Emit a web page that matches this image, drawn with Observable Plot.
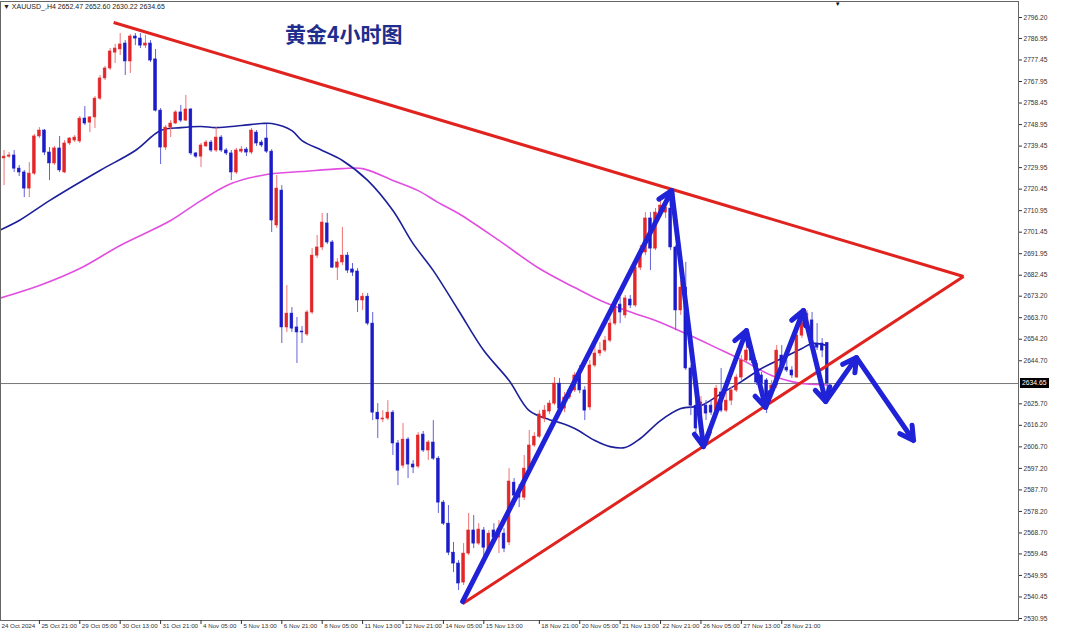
<!DOCTYPE html>
<html><head><meta charset="utf-8">
<script src="https://cdn.jsdelivr.net/npm/d3@7"></script>
<script src="https://cdn.jsdelivr.net/npm/@observablehq/plot@0.6"></script>
<style>
body{margin:0;background:#fff;}
#wrap{position:relative;width:1080px;height:635px;overflow:hidden;font-family:"Liberation Sans",Arial,sans-serif;background:#fff;}
#wrap svg{position:absolute;left:0;top:0;}
.hdr{position:absolute;left:3px;top:2px;font-size:7px;line-height:9px;color:#222;white-space:nowrap;}
.title{position:absolute;left:285px;top:23px;font-family:"Noto Sans CJK SC",sans-serif;font-weight:bold;font-size:21px;line-height:21px;color:#1f2d8c;white-space:nowrap;}
.pbox{position:absolute;background:#000;color:#fff;font-size:6.8px;line-height:10px;height:10px;padding:0 2px;white-space:nowrap;}
.shift{position:absolute;top:1px;font-size:6px;line-height:6px;color:#000;}
</style></head><body><div id="wrap"></div>
<script>
// ---------------- data (XAUUSD H4) ----------------
const open = [2736.2,2734.0,2734.8,2735.3,2729.5,2727.8,2720.7,2727.3,2743.7,2746.3,
2736.6,2731.8,2738.4,2727.8,2740.6,2741.9,2741.5,2751.6,2749.8,2752.1,
2760.4,2769.3,2773.7,2780.7,2782.1,2784.7,2776.8,2787.8,2786.9,2783.8,
2784.7,2777.7,2755.1,2738.8,2747.6,2749.4,2754.3,2750.7,2755.6,2736.2,
2734.8,2739.3,2741.0,2737.5,2743.2,2737.5,2736.2,2727.8,2737.0,2737.9,
2736.6,2745.4,2741.0,2742.8,2737.0,2704.4,2719.8,2659.4,2665.5,2659.4,
2657.6,2656.3,2666.0,2691.1,2694.7,2705.3,2696.9,2685.8,2688.1,2691.1,
2685.0,2684.1,2671.3,2673.0,2661.1,2621.8,2618.8,2619.2,2621.8,2608.2,
2598.4,2609.9,2598.9,2598.0,2612.1,2605.1,2608.6,2601.5,2582.1,2572.8,
2560.0,2555.2,2546.8,2559.6,2569.8,2564.0,2569.8,2560.9,2569.8,2566.7,
2568.4,2564.5,2590.9,2587.4,2584.3,2597.1,2607.3,2611.2,2619.2,2622.3,
2625.8,2634.6,2623.6,2628.5,2631.6,2639.5,2631.6,2624.1,2642.6,2647.9,
2649.2,2653.6,2661.1,2669.5,2664.7,2671.7,2669.1,2685.8,2692.5,2707.5,
2694.2,2710.1,2710.1,2711.9,2694.7,2666.9,2677.0,2641.3,2624.9,2618.3,
2624.9,2624.9,2622.7,2630.7,2622.7,2627.1,2631.6,2637.3,2644.8,2649.2,
2643.5,2638.2,2636.0,2629.4,2633.8,2647.0,2641.7,2640.4,2637.3,2655.8,
2661.1,2662.5,2652.3,2652.3,2652.47];
const high = [2741.9,2737.5,2736.6,2737.5,2730.9,2728.7,2732.2,2744.6,2747.6,2746.8,
2738.8,2739.3,2743.7,2741.9,2743.2,2744.1,2752.5,2756.9,2752.5,2761.3,
2770.6,2774.6,2782.5,2784.3,2789.1,2786.0,2788.7,2789.1,2789.1,2788.3,
2786.0,2782.1,2756.0,2748.5,2750.7,2755.1,2757.4,2761.8,2756.0,2736.6,
2740.6,2741.9,2741.9,2747.6,2744.1,2738.4,2737.5,2738.4,2739.3,2738.8,
2747.2,2746.3,2741.9,2749.0,2737.9,2726.5,2722.0,2677.9,2668.2,2663.8,
2659.8,2666.9,2694.2,2700.0,2709.7,2709.7,2697.8,2689.8,2703.5,2692.5,
2687.6,2685.4,2674.4,2674.4,2666.0,2625.8,2622.7,2627.1,2622.7,2609.5,
2617.0,2610.8,2600.7,2613.0,2613.5,2609.5,2618.3,2602.4,2583.0,2580.8,
2564.5,2556.5,2564.0,2577.3,2576.4,2572.8,2571.1,2569.8,2572.8,2574.2,
2570.6,2597.1,2592.7,2590.1,2602.9,2613.9,2613.0,2622.7,2624.9,2627.1,
2637.3,2636.9,2630.7,2633.3,2639.5,2642.6,2633.3,2644.8,2651.4,2652.7,
2655.4,2663.3,2671.3,2672.6,2673.5,2673.5,2687.6,2695.6,2710.1,2710.1,
2711.9,2715.4,2714.1,2713.7,2695.6,2680.1,2688.1,2642.6,2627.1,2628.9,
2627.1,2627.1,2633.8,2641.3,2630.7,2633.3,2638.6,2647.0,2651.4,2651.4,
2644.8,2639.5,2636.9,2636.0,2651.4,2651.4,2644.8,2642.1,2658.0,2666.9,
2666.9,2666.0,2661.1,2654.5,2652.60];
const low = [2729.5,2722.0,2734.0,2727.8,2726.0,2716.7,2716.7,2726.5,2742.8,2735.3,
2724.2,2730.9,2727.8,2727.3,2739.7,2741.0,2740.6,2748.5,2745.4,2747.2,
2759.6,2768.4,2772.8,2775.9,2779.4,2770.6,2771.5,2783.8,2782.5,2782.5,
2776.3,2754.5,2731.3,2737.5,2743.2,2749.0,2749.8,2750.3,2735.3,2734.0,
2730.0,2738.8,2736.6,2736.6,2736.6,2735.3,2724.2,2726.9,2736.2,2734.8,
2735.7,2739.3,2738.8,2736.2,2701.3,2703.1,2652.3,2657.2,2657.2,2643.5,
2652.3,2655.4,2665.1,2689.8,2693.3,2696.0,2685.4,2680.1,2686.7,2683.2,
2681.9,2666.0,2666.9,2660.2,2618.3,2610.4,2617.4,2618.3,2602.9,2589.6,
2597.1,2592.7,2594.9,2597.1,2604.2,2600.7,2600.7,2577.3,2572.0,2558.7,
2551.2,2543.3,2545.5,2558.7,2561.8,2563.1,2558.3,2559.6,2565.3,2559.6,
2560.0,2563.1,2580.8,2579.9,2583.0,2596.2,2606.4,2610.4,2617.4,2621.0,
2624.9,2622.7,2621.8,2627.6,2630.7,2630.2,2618.3,2622.7,2641.7,2646.6,
2648.3,2652.7,2660.2,2661.1,2663.3,2667.7,2668.2,2684.5,2691.1,2684.5,
2693.3,2708.4,2707.5,2693.3,2658.0,2664.7,2640.4,2620.5,2613.0,2616.1,
2618.3,2620.5,2621.8,2621.8,2621.8,2624.9,2630.7,2636.0,2643.9,2643.5,
2633.8,2633.3,2621.4,2628.0,2632.4,2640.4,2639.5,2636.9,2636.9,2654.5,
2660.2,2649.2,2649.2,2646.1,2630.22];
const close = [2733.1,2734.8,2735.3,2729.5,2727.8,2720.7,2727.3,2743.7,2746.3,2736.6,
2731.8,2738.4,2728.7,2740.6,2742.8,2743.2,2751.6,2749.4,2752.1,2760.4,
2769.3,2773.7,2781.2,2782.5,2784.3,2776.8,2787.8,2786.9,2783.8,2784.7,
2777.2,2755.1,2738.8,2747.6,2749.4,2754.3,2750.7,2755.6,2736.2,2734.8,
2739.7,2741.0,2737.5,2743.2,2737.5,2736.2,2727.8,2737.5,2737.9,2736.6,
2746.3,2740.6,2739.7,2737.0,2706.6,2720.7,2659.4,2665.5,2658.9,2657.2,
2657.2,2666.0,2691.1,2694.7,2705.7,2696.9,2685.8,2688.1,2691.1,2684.5,
2683.6,2671.3,2673.0,2661.1,2621.8,2618.8,2619.2,2621.8,2608.2,2596.2,
2609.9,2598.9,2597.6,2611.7,2605.1,2608.6,2601.5,2582.1,2572.8,2560.0,
2555.2,2546.4,2559.6,2569.8,2564.0,2570.2,2562.2,2568.4,2566.7,2570.6,
2561.8,2591.4,2585.2,2584.3,2597.1,2607.3,2611.2,2621.0,2622.7,2625.8,
2634.6,2623.6,2628.5,2631.6,2638.2,2631.6,2622.7,2642.6,2647.9,2649.2,
2653.6,2661.1,2669.1,2666.0,2672.2,2669.1,2685.8,2692.5,2707.5,2694.2,
2710.1,2713.2,2712.3,2694.7,2666.9,2677.0,2641.3,2624.9,2614.8,2626.3,
2621.4,2621.8,2632.4,2622.7,2627.1,2631.6,2637.3,2644.8,2649.2,2644.8,
2635.1,2634.6,2628.5,2633.8,2649.2,2641.7,2640.4,2638.2,2655.8,2661.6,
2665.5,2650.5,2650.5,2649.2,2634.65];

// moving averages (at bar positions)
const blueMAIdx = [0,4,10,20,27,32,36,40,43,48,52,54,58,60,64,68,73,78,82,86,91,96,101,105,109,111,114,118,121,124,127,131,135,139,143,147,151,155,159,161,164];
const blueMAVal = [2702.2,2706.6,2715.4,2728.7,2737.5,2746.3,2747.6,2748.1,2747.6,2748.5,2749.4,2749.4,2746.3,2741.9,2737.5,2733.1,2724.3,2711.0,2696.4,2684.5,2666.9,2649.2,2636.0,2622.7,2618.7,2617.4,2614.8,2609.5,2606.8,2606.4,2610.4,2618.3,2623.6,2624.9,2630.2,2635.5,2641.3,2645.7,2650.1,2652.3,2651.4];
const pinkMAIdx = [0,8,16,24,34,40,46,53,60,68,72,78,83,87,91,99,107,114,120,126,130,136,142,147,153,157,159,162,164];
const pinkMAVal = [2672.2,2677.9,2685.4,2695.6,2706.6,2715.4,2722.9,2726.9,2728.2,2729.5,2729.5,2724.3,2719.8,2714.5,2709.7,2697.8,2685.4,2677.0,2670.4,2665.5,2662.5,2656.7,2650.5,2645.2,2638.2,2635.5,2634.7,2634.2,2634.0];

// red triangle trend lines (bar index, price)
const trendFrom = [[22.7, 2794.0], [91.8, 2537.5]];
const trendTo   = [[191.0, 2681.9], [191.0, 2681.9]];

// blue forecast zig-zag arrows
const arrowIdx = [91.8, 133.2, 139.5, 148.0, 151.8, 159.3, 163.7, 169.8, 181.1];
const arrowVal = [2538.4, 2719.8, 2606.8, 2658.0, 2624.1, 2666.9, 2626.7, 2646.1, 2609.5];

// axes
const priceTicks = [2796.20,2786.95,2777.45,2767.95,2758.45,2748.95,2739.45,2729.95,2720.45,2710.95,2701.45,2691.95,2682.45,2673.20,2663.70,2654.20,2644.70,2625.70,2616.20,2606.70,2597.20,2587.70,2578.20,2568.70,2559.45,2549.95,2540.45,2530.95];
const timeIdx = [8,16,24,32,40,48,56,64,72,80,88,96,107,115,123,131,139,147,155];
const timeLabels = ["25 Oct 21:00","29 Oct 05:00","30 Oct 13:00","31 Oct 21:00","4 Nov 05:00","5 Nov 13:00","6 Nov 21:00","8 Nov 05:00","11 Nov 13:00","12 Nov 21:00","14 Nov 05:00","15 Nov 13:00","18 Nov 21:00","20 Nov 05:00","21 Nov 13:00","22 Nov 21:00","26 Nov 05:00","27 Nov 13:00","28 Nov 21:00"];
const firstLabel = "24 Oct 2024";
const symbol = "XAUUSD_,H4";
const lastPrice = 2634.65;
const titleText = "黄金4小时图";

// ---------------- layout ----------------
const W = 1080, H = 635, XR = 1018;
const barPx = 5.05, barX0 = -1.5;
const red = "#e3262a", blue = "#1b1bc9";

const candles = open.map((o, i) => ({i, o, h: high[i], l: low[i], c: close[i], up: close[i] >= o}));
const blueMA = blueMAIdx.map((i, k) => ({i, v: blueMAVal[k]}));
const pinkMA = pinkMAIdx.map((i, k) => ({i, v: pinkMAVal[k]}));
const trends = trendFrom.map((f, k) => ({x1: f[0], y1: f[1], x2: trendTo[k][0], y2: trendTo[k][1]}));
const segs = arrowIdx.slice(1).map((_, k) => ({x1: arrowIdx[k], y1: arrowVal[k], x2: arrowIdx[k + 1], y2: arrowVal[k + 1]}));

const chart = Plot.plot({
  width: W, height: H,
  marginLeft: 0, marginRight: W - XR, marginTop: 1, marginBottom: 15,
  x: {domain: [(0 - barX0) / barPx, (XR - barX0) / barPx], axis: null},
  y: {domain: [2530.95, 2796.20], range: [618, 17], axis: null},
  color: {type: "identity"},
  style: {fontFamily: "Liberation Sans, Arial, sans-serif", fontSize: "6.6px", color: "#333", background: "#fff", overflow: "visible"},
  marks: [
    Plot.ruleY([lastPrice], {stroke: "#777", strokeWidth: 1}),
    Plot.line(pinkMA, {x: "i", y: "v", stroke: "#e24ee0", strokeWidth: 1.6, curve: "catmull-rom", clip: true}),
    Plot.line(blueMA, {x: "i", y: "v", stroke: "#1c1f9a", strokeWidth: 1.6, curve: "catmull-rom", clip: true}),
    Plot.ruleX(candles, {x: "i", y1: "l", y2: "h", stroke: d => d.up ? "#ee7373" : "#6262d8", strokeWidth: 1, clip: true}),
    Plot.rect(candles, {x1: d => d.i - 0.27, x2: d => d.i + 0.27, y1: "o", y2: "c", fill: d => d.up ? red : blue, stroke: d => d.up ? red : blue, strokeWidth: 0.6, clip: true}),
    Plot.link(trends, {x1: "x1", y1: "y1", x2: "x2", y2: "y2", stroke: "#e0231f", strokeWidth: 3, clip: true}),
    Plot.arrow(segs, {x1: "x1", y1: "y1", x2: "x2", y2: "y2", stroke: "#1f22d6", strokeWidth: 5, headLength: 4.6, headAngle: 58}),
    Plot.frame({stroke: "#666"}),
    Plot.axisY(priceTicks, {anchor: "right", tickSize: 3, tickPadding: 2, tickFormat: d => d.toFixed(2), label: null, fill: "#333"}),
    Plot.axisX(timeIdx, {anchor: "bottom", tickSize: 4, tickFormat: () => "", label: null}),
    Plot.text(timeIdx, {x: d => d, text: (d, k) => timeLabels[k], frameAnchor: "bottom", dy: 7, dx: 2, textAnchor: "start", fill: "#333", fontSize: 6.2}),
    Plot.text([firstLabel], {frameAnchor: "bottom-left", dy: 7, dx: 1, textAnchor: "start", fill: "#333", fontSize: 6.2})
  ]
});

const wrap = document.getElementById("wrap");
wrap.appendChild(chart);

// header line
const hdr = document.createElement("div");
hdr.className = "hdr";
hdr.textContent = "▼ " + symbol + "  " + [open[open.length-1], high[high.length-1], low[low.length-1], close[close.length-1]].map(v => v.toFixed(2)).join(" ");
wrap.appendChild(hdr);

// title
const t = document.createElement("div");
t.className = "title";
t.textContent = titleText;
wrap.appendChild(t);

// current price box on the price axis
const yScale = chart.scale("y");
const pb = document.createElement("div");
pb.className = "pbox";
pb.textContent = lastPrice.toFixed(2);
pb.style.left = (XR + 2) + "px";
pb.style.top = (yScale.apply(lastPrice) - 5) + "px";
wrap.appendChild(pb);

// chart-shift marker
const xScale = chart.scale("x");
const sh = document.createElement("div");
sh.className = "shift";
sh.textContent = "▼";
sh.style.left = (xScale.apply(166.2) - 3) + "px";
wrap.appendChild(sh);
</script></body></html>
